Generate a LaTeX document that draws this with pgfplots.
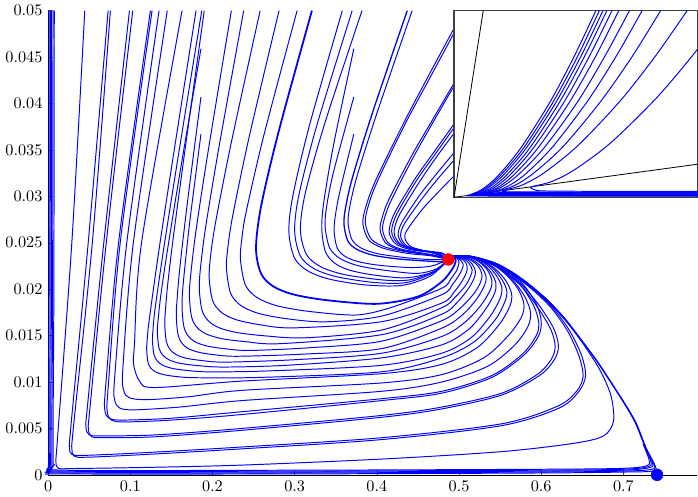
\documentclass[border=0pt]{standalone}
\usepackage{pgfplots}
\pgfplotsset{compat=1.18}
\pgfplotsset{tr/.style={blue, line width=0.6pt, smooth, tension=0.5, mark=none}}
\begin{document}
\begin{tikzpicture}
\begin{axis}[name=main, width=400pt, height=286pt, scale only axis,
  xmin=0, xmax=0.79, ymin=0, ymax=0.05, clip=false,
  axis x line*=bottom, axis y line*=left,
  xtick={0,0.1,0.2,0.3,0.4,0.5,0.6,0.7},
  ytick={0,0.005,0.01,0.015,0.02,0.025,0.03,0.035,0.04,0.045,0.05},
  scaled ticks=false,
  xticklabel style={/pgf/number format/fixed},
  yticklabel style={/pgf/number format/fixed,/pgf/number format/precision=3},
  major tick length=3pt, tick style={black!70}]
% bundle along axes
\addplot[tr] coordinates {(0.0012,0.05)(0.0011,0.02)(0.0009,0.003)(0.0015,0.0003)(0.02,0.0001)(0.3,0.0001)(0.6,0.0002)(0.70,0.0003)(0.736,0.0004)(0.739,0.0009)(0.728,0.0028)(0.716,0.0055)(0.703,0.0075)(0.690,0.0093)(0.670,0.0120)(0.650,0.0144)(0.630,0.0167)(0.609,0.0187)(0.588,0.0203)(0.568,0.0216)(0.548,0.0226)(0.528,0.0232)(0.510,0.0235)(0.492,0.0236)};
\addplot[tr] coordinates {(0.0028,0.05)(0.0025,0.02)(0.002,0.003)(0.003,0.0005)(0.02,0.0002)(0.3,0.0002)(0.6,0.0003)(0.70,0.0004)(0.735,0.0006)(0.737,0.0012)(0.727,0.0030)(0.715,0.0056)(0.702,0.0076)(0.689,0.0094)(0.669,0.0121)(0.649,0.0145)(0.629,0.0168)(0.608,0.0188)(0.587,0.0204)(0.567,0.0217)(0.547,0.0227)(0.527,0.0233)(0.510,0.0236)(0.492,0.0236)};
\addplot[tr] coordinates {(0.0044,0.05)(0.004,0.02)(0.0032,0.003)(0.0045,0.0007)(0.02,0.0003)(0.3,0.0003)(0.6,0.0004)(0.70,0.0005)(0.733,0.0008)(0.735,0.0014)(0.726,0.0031)(0.714,0.0057)(0.701,0.0077)(0.688,0.0095)(0.668,0.0122)(0.648,0.0146)(0.628,0.0168)(0.607,0.0188)(0.587,0.0204)(0.567,0.0217)(0.547,0.0227)(0.527,0.0233)(0.510,0.0236)(0.492,0.0236)};
\addplot[tr] coordinates {(0.006,0.05)(0.0055,0.02)(0.0045,0.003)(0.006,0.0009)(0.02,0.0004)(0.3,0.0004)(0.6,0.0005)(0.70,0.0006)(0.731,0.0009)(0.733,0.0016)(0.725,0.0032)};
\addplot[tr] coordinates {(0.0075,0.05)(0.007,0.02)(0.006,0.003)(0.0075,0.0011)(0.02,0.0005)(0.3,0.0005)(0.6,0.0006)(0.70,0.0007)(0.729,0.0010)(0.731,0.0017)(0.724,0.0033)};
% outer loops
\addplot[tr] coordinates {(0.0446,0.05)(0.029,0.0252)(0.0115,0.004)(0.0095,0.0015)(0.0125,0.0007)(0.03,0.00068)(0.12,0.0008)(0.236,0.00105)(0.406,0.0017)(0.552,0.0025)(0.64,0.0034)(0.676,0.0042)(0.688,0.0058)(0.685,0.0085)(0.672,0.0112)(0.652,0.0140)(0.630,0.0166)(0.609,0.0186)(0.588,0.0202)(0.568,0.0215)(0.548,0.0225)(0.528,0.0232)(0.51,0.0236)(0.492,0.0236)};
\addplot[tr] coordinates {(0.073,0.05)(0.049,0.0252)(0.028,0.0055)(0.026,0.0030)(0.029,0.0022)(0.045,0.0021)(0.12,0.0024)(0.236,0.0030)(0.406,0.0040)(0.552,0.0055)(0.62,0.0074)(0.643,0.0090)(0.651,0.0106)(0.646,0.0128)(0.632,0.0155)(0.612,0.0180)(0.590,0.0199)(0.568,0.0214)(0.548,0.0225)(0.528,0.0232)(0.51,0.0236)(0.492,0.0236)};
\addplot[tr] coordinates {(0.0758,0.05)(0.054,0.0252)(0.031,0.0053)(0.029,0.0028)(0.032,0.0020)(0.048,0.0019)(0.12,0.0022)(0.236,0.0028)(0.406,0.0038)(0.552,0.0053)(0.622,0.0072)(0.646,0.0090)(0.654,0.0107)(0.649,0.0129)(0.634,0.0156)(0.613,0.0181)(0.590,0.0200)(0.568,0.0215)(0.548,0.0225)(0.528,0.0232)(0.51,0.0236)(0.492,0.0236)};
\addplot[tr] coordinates {(0.099,0.05)(0.068,0.0252)(0.048,0.0075)(0.046,0.0052)(0.050,0.0043)(0.065,0.0042)(0.13,0.0043)(0.236,0.0050)(0.406,0.0064)(0.479,0.0073)(0.552,0.0088)(0.595,0.0108)(0.612,0.0124)(0.617,0.0138)(0.612,0.0156)(0.596,0.0180)(0.575,0.0204)(0.55,0.0222)(0.525,0.0232)(0.505,0.0236)(0.492,0.0236)};
\addplot[tr] coordinates {(0.103,0.05)(0.071,0.0252)(0.051,0.0073)(0.049,0.0050)(0.053,0.0041)(0.068,0.0040)(0.13,0.0041)(0.236,0.0048)(0.406,0.0062)(0.479,0.0071)(0.552,0.0086)(0.598,0.0107)(0.616,0.0124)(0.621,0.0139)(0.615,0.0158)(0.598,0.0182)(0.576,0.0205)(0.55,0.0223)(0.525,0.0233)(0.505,0.0236)(0.492,0.0236)};
\addplot[tr] coordinates {(0.1245,0.05)(0.086,0.0252)(0.070,0.0095)(0.069,0.0070)(0.074,0.0061)(0.09,0.0059)(0.15,0.0061)(0.236,0.0068)(0.406,0.0082)(0.479,0.0090)(0.54,0.0107)(0.577,0.0130)(0.594,0.0150)(0.597,0.0164)(0.591,0.0182)(0.575,0.0204)(0.55,0.0222)(0.525,0.0232)(0.505,0.0236)(0.492,0.0236)};
\addplot[tr] coordinates {(0.1265,0.05)(0.088,0.0252)(0.073,0.0093)(0.072,0.0068)(0.077,0.0059)(0.093,0.0057)(0.15,0.0059)(0.236,0.0065)(0.406,0.0080)(0.479,0.0088)(0.54,0.0105)(0.579,0.0129)(0.597,0.0150)(0.600,0.0166)(0.594,0.0184)(0.577,0.0206)(0.551,0.0223)(0.525,0.0233)(0.505,0.0236)(0.492,0.0236)};
\addplot[tr] coordinates {(0.135,0.05)(0.096,0.0252)(0.081,0.0105)(0.081,0.0081)(0.087,0.0072)(0.105,0.0070)(0.16,0.0073)(0.236,0.0080)(0.406,0.0090)(0.479,0.0100)(0.535,0.0117)(0.568,0.0140)(0.584,0.0160)(0.587,0.0175)(0.580,0.0192)(0.565,0.0210)(0.545,0.0225)(0.52,0.0234)(0.492,0.0236)};
\addplot[tr] coordinates {(0.145,0.05)(0.104,0.0252)(0.091,0.0115)(0.092,0.0091)(0.099,0.0083)(0.12,0.0081)(0.17,0.0084)(0.236,0.0091)(0.406,0.0099)(0.479,0.0108)(0.530,0.0126)(0.560,0.0150)(0.576,0.0170)(0.579,0.0184)(0.572,0.0200)(0.558,0.0215)(0.54,0.0227)(0.515,0.0235)(0.492,0.0236)};
\addplot[tr] coordinates {(0.163,0.05)(0.114,0.0252)(0.105,0.0140)(0.104,0.0119)(0.1113,0.0101)(0.129,0.0094)(0.236,0.0101)(0.406,0.0109)(0.479,0.0119)(0.522,0.0137)(0.549,0.0162)(0.562,0.0182)(0.564,0.0195)(0.557,0.0209)(0.544,0.0222)(0.525,0.0232)(0.505,0.0236)(0.492,0.0236)};
% middle loops
\addplot[tr] coordinates {(0.180,0.05)(0.1519,0.0341)(0.1347,0.0241)(0.1229,0.0166)(0.1204,0.01436)(0.120,0.0134)(0.1215,0.01212)(0.1251,0.01148)(0.1313,0.01106)(0.1413,0.01078)(0.1568,0.01058)(0.1804,0.01046)(0.26,0.0105)(0.406,0.0111)(0.479,0.0126)(0.518,0.0143)(0.544,0.0167)(0.556,0.0187)(0.558,0.0199)(0.551,0.0212)(0.538,0.0225)(0.52,0.0233)(0.492,0.0236)};
\addplot[tr] coordinates {(0.187,0.05)(0.1583,0.0343)(0.1409,0.0245)(0.1303,0.0180)(0.1275,0.01548)(0.127,0.0144)(0.1288,0.01296)(0.1330,0.01224)(0.1402,0.01177)(0.1520,0.01145)(0.1701,0.01123)(0.1977,0.01109)(0.27,0.0112)(0.406,0.0118)(0.479,0.0131)(0.515,0.0148)(0.538,0.0171)(0.550,0.0190)(0.552,0.0202)(0.546,0.0214)(0.534,0.0226)(0.517,0.0234)(0.492,0.0236)};
\addplot[tr] coordinates {(0.186,0.0459)(0.1596,0.0321)(0.1438,0.0234)(0.1368,0.0191)(0.1335,0.01637)(0.133,0.0152)(0.1350,0.01364)(0.1398,0.01286)(0.1480,0.01235)(0.1613,0.0120)(0.1820,0.01177)(0.2133,0.01161)(0.29,0.0118)(0.406,0.0126)(0.479,0.0140)(0.512,0.0157)(0.532,0.0178)(0.543,0.0195)(0.545,0.0206)(0.539,0.0218)(0.528,0.0228)(0.512,0.0235)(0.492,0.0236)};
\addplot[tr] coordinates {(0.190,0.05)(0.1661,0.0347)(0.1518,0.0252)(0.1454,0.0204)(0.1425,0.01739)(0.142,0.0161)(0.1438,0.01438)(0.1482,0.01352)(0.1555,0.01296)(0.1676,0.01257)(0.1863,0.01232)(0.2146,0.01214)(0.30,0.0124)(0.406,0.0131)(0.479,0.0149)(0.508,0.0165)(0.527,0.0183)(0.538,0.0199)(0.540,0.0209)(0.535,0.0220)(0.525,0.0229)(0.51,0.0235)(0.492,0.0236)};
\addplot[tr] coordinates {(0.186,0.0407)(0.1696,0.0294)(0.1603,0.0223)(0.1565,0.01838)(0.156,0.0170)(0.1579,0.01516)(0.1623,0.01424)(0.1697,0.01364)(0.1820,0.01323)(0.2009,0.01295)(0.2296,0.01277)(0.31,0.0130)(0.406,0.0136)(0.479,0.0158)(0.505,0.0173)(0.522,0.0190)(0.531,0.0204)(0.533,0.0213)(0.528,0.0223)(0.519,0.0230)(0.506,0.0235)(0.492,0.0236)};
\addplot[tr] coordinates {(0.186,0.0367)(0.1723,0.0272)(0.1643,0.0205)(0.163,0.0180)(0.1651,0.0160)(0.1700,0.0150)(0.1784,0.01435)(0.1921,0.0139)(0.2133,0.0136)(0.2455,0.0134)(0.32,0.0137)(0.406,0.0144)(0.479,0.0166)(0.502,0.0180)(0.518,0.0195)(0.526,0.0207)(0.528,0.0215)(0.524,0.0224)(0.515,0.0231)(0.504,0.0235)(0.492,0.0236)};
\addplot[tr] coordinates {(0.223,0.05)(0.1959,0.0355)(0.1801,0.0264)(0.1732,0.02126)(0.172,0.0191)(0.1748,0.01694)(0.1814,0.01586)(0.1927,0.01516)(0.2111,0.01467)(0.2396,0.01435)(0.2828,0.01413)(0.406,0.0151)(0.479,0.0173)(0.498,0.0186)(0.511,0.0200)(0.518,0.0211)(0.520,0.0219)(0.516,0.0227)(0.508,0.0233)(0.492,0.0236)};
\addplot[tr] coordinates {(0.238,0.05)(0.2087,0.0357)(0.1919,0.0268)(0.1854,0.02228)(0.184,0.0200)(0.1873,0.01772)(0.1950,0.01658)(0.2081,0.01584)(0.2296,0.01533)(0.2628,0.01498)(0.3132,0.01476)(0.406,0.0156)(0.479,0.0180)(0.496,0.0192)(0.508,0.0204)(0.514,0.0214)(0.516,0.0221)(0.512,0.0228)(0.505,0.0233)(0.492,0.0236)};
\addplot[tr] coordinates {(0.258,0.05)(0.2234,0.0360)(0.2040,0.0273)(0.1978,0.02364)(0.196,0.0212)(0.2002,0.01876)(0.2103,0.01754)(0.2274,0.01675)(0.2555,0.0162)(0.2987,0.01583)(0.406,0.0165)(0.479,0.0185)(0.494,0.0197)(0.504,0.0209)(0.509,0.0218)(0.510,0.0224)(0.506,0.0231)(0.492,0.0236)};
\addplot[tr] coordinates {(0.281,0.05)(0.2444,0.0363)(0.2242,0.0277)(0.2183,0.02415)(0.217,0.0222)(0.2219,0.0196)(0.2336,0.0183)(0.2534,0.01746)(0.2860,0.01687)(0.3361,0.01648)(0.406,0.0171)(0.479,0.0194)(0.492,0.0205)(0.500,0.0215)(0.504,0.0222)(0.505,0.0227)(0.501,0.0232)(0.492,0.0236)};
\addplot[tr] coordinates {(0.303,0.05)(0.2626,0.0366)(0.2407,0.0282)(0.2355,0.02524)(0.234,0.0232)(0.2399,0.02048)(0.2538,0.01912)(0.2773,0.01824)(0.3160,0.01762)(0.3756,0.01722)(0.42,0.0181)(0.479,0.0201)(0.490,0.0211)(0.497,0.0220)(0.500,0.0229)(0.497,0.0234)(0.492,0.0236)};
\addplot[tr, line width=1.1pt] coordinates {(0.321,0.05)(0.2806,0.0370)(0.2591,0.0289)(0.253,0.0244)(0.2591,0.02168)(0.2736,0.02032)(0.2981,0.01944)(0.3384,0.01882)(0.4005,0.01842)(0.45,0.0192)(0.479,0.0208)(0.492,0.0222)(0.496,0.0231)(0.492,0.0236)};
% inner curves from the top
\addplot[tr] coordinates {(0.358,0.05)(0.3182,0.0377)(0.2977,0.0300)(0.293,0.0262)(0.2996,0.0234)(0.3153,0.0220)(0.3418,0.02109)(0.3854,0.02046)(0.43,0.0204)(0.465,0.0214)(0.487,0.0232)};
\addplot[tr] coordinates {(0.370,0.05)(0.3275,0.0378)(0.3053,0.0302)(0.300,0.0263)(0.3069,0.02358)(0.3233,0.02222)(0.3510,0.02134)(0.3966,0.02072)(0.435,0.0207)(0.467,0.0217)(0.487,0.0232)};
\addplot[tr] coordinates {(0.382,0.05)(0.3368,0.0379)(0.3131,0.0304)(0.307,0.0264)(0.3142,0.02376)(0.3312,0.02244)(0.3600,0.02158)(0.4073,0.02099)(0.44,0.0210)(0.469,0.0219)(0.487,0.0232)};
\addplot[tr] coordinates {(0.372,0.0459)(0.3477,0.0357)(0.3355,0.0294)(0.333,0.0265)(0.3372,0.0241)(0.3472,0.0229)(0.3642,0.02212)(0.3920,0.02158)(0.4349,0.02122)(0.47,0.0219)(0.487,0.0232)};
\addplot[tr] coordinates {(0.372,0.0407)(0.3478,0.0328)(0.3394,0.02916)(0.337,0.0268)(0.3426,0.02444)(0.3560,0.02326)(0.3788,0.02249)(0.4161,0.02196)(0.45,0.0217)(0.473,0.0222)(0.487,0.0232)};
\addplot[tr] coordinates {(0.372,0.0367)(0.3555,0.0307)(0.3496,0.02796)(0.348,0.0262)(0.3518,0.02444)(0.3608,0.02356)(0.3762,0.02299)(0.4013,0.02259)(0.4401,0.02233)(0.467,0.0225)(0.487,0.0232)};
\addplot[tr, line width=0.8pt] coordinates {(0.437,0.05)(0.3947,0.0390)(0.3706,0.0321)(0.3621,0.02884)(0.360,0.0270)(0.3649,0.02516)(0.3766,0.02424)(0.3965,0.02364)(0.4290,0.02323)(0.4793,0.02295)(0.487,0.0232)};
\addplot[tr] coordinates {(0.443,0.05)(0.4003,0.0390)(0.3760,0.0322)(0.3671,0.0289)(0.365,0.0271)(0.3699,0.0253)(0.3815,0.0244)(0.4012,0.02382)(0.4335,0.02341)(0.462,0.0232)(0.487,0.0232)};
% curves entering from the right
\addplot[tr] coordinates {(0.494,0.0481)(0.463,0.0430)(0.4327,0.0379)(0.3980,0.0316)(0.3861,0.02872)(0.383,0.0270)(0.3903,0.02528)(0.4075,0.02442)(0.4368,0.02386)(0.465,0.0236)(0.487,0.0232)};
\addplot[tr] coordinates {(0.494,0.0476)(0.4636,0.0426)(0.4339,0.0377)(0.4001,0.0315)(0.3891,0.02882)(0.386,0.0271)(0.3933,0.02538)(0.4107,0.02452)(0.4401,0.02396)(0.466,0.0237)(0.487,0.0232)};
\addplot[tr] coordinates {(0.494,0.0422)(0.4682,0.0383)(0.4432,0.0345)(0.4149,0.0297)(0.4068,0.0278)(0.404,0.0264)(0.4105,0.0250)(0.4259,0.0243)(0.4521,0.02385)(0.472,0.0236)(0.487,0.0232)};
\addplot[tr] coordinates {(0.494,0.0419)(0.4692,0.0381)(0.4450,0.0343)(0.4177,0.0296)(0.4097,0.02776)(0.407,0.0264)(0.4132,0.02504)(0.4279,0.02436)(0.4529,0.02392)(0.473,0.0236)(0.487,0.0232)};
\addplot[tr] coordinates {(0.494,0.0378)(0.4698,0.0348)(0.4466,0.0319)(0.4216,0.0282)(0.415,0.0262)(0.4224,0.02492)(0.4400,0.02428)(0.4699,0.02386)(0.487,0.0232)};
\addplot[tr] coordinates {(0.494,0.0374)(0.4707,0.0345)(0.4483,0.0317)(0.4243,0.0281)(0.418,0.0262)(0.4252,0.02496)(0.4422,0.02434)(0.4710,0.02394)(0.487,0.0232)};
\addplot[tr] coordinates {(0.494,0.0368)(0.4715,0.0341)(0.4500,0.0313)(0.4269,0.0279)(0.421,0.0261)(0.4280,0.0249)(0.4446,0.0243)(0.4727,0.02391)(0.487,0.0232)};
\addplot[tr] coordinates {(0.494,0.0347)(0.4725,0.0324)(0.4520,0.0301)(0.4305,0.0272)(0.426,0.0258)(0.4332,0.02472)(0.4502,0.02418)(0.4791,0.02383)(0.487,0.0232)};
\addplot[tr] coordinates {(0.494,0.0339)(0.4734,0.0318)(0.4538,0.0296)(0.4333,0.0270)(0.429,0.0257)(0.4359,0.0247)(0.4523,0.0242)(0.4800,0.02388)(0.487,0.0232)};
\addplot[tr] coordinates {(0.494,0.0322)(0.4741,0.0304)(0.4554,0.0286)(0.4372,0.02642)(0.434,0.0255)(0.4414,0.02458)(0.4589,0.02412)(0.475,0.0237)(0.487,0.0232)};
% equilibria
\addplot[only marks, mark=*, mark size=3.6pt, red] coordinates {(0.487,0.0232)};
\addplot[only marks, mark=*, mark size=3.6pt, blue] coordinates {(0.741,0)};
\end{axis}
% inset
\begin{axis}[at={(250.1pt,171pt)}, anchor=south west, width=149.9pt, height=115pt, scale only axis,
  xmin=0, xmax=1, ymin=0, ymax=1, xtick=\empty, ytick=\empty,
  axis background/.style={fill=white}, axis line style={black!75, line width=0.8pt}]
\addplot[black, line width=0.5pt] coordinates {(0,0)(0.12,1)};
\addplot[black, line width=0.5pt] coordinates {(0,0)(1,0.177)};
\addplot[tr] coordinates {(1,0.006)(0.5,0.006)(0.09,0.007)(0.062,0.008)(0.058,0.010)(0.112,0.040)(0.176,0.109)(0.271,0.258)(0.392,0.505)(0.493,0.753)(0.583,1)};
\addplot[tr] coordinates {(1,0.008)(0.5,0.008)(0.10,0.009)(0.072,0.010)(0.068,0.012)(0.122,0.042)(0.186,0.111)(0.283,0.259)(0.405,0.506)(0.507,0.753)(0.597,1)};
\addplot[tr] coordinates {(1,0.010)(0.5,0.010)(0.11,0.011)(0.082,0.012)(0.078,0.014)(0.132,0.044)(0.198,0.113)(0.295,0.261)(0.418,0.507)(0.521,0.754)(0.612,1)};
\addplot[tr] coordinates {(1,0.012)(0.5,0.012)(0.125,0.013)(0.096,0.014)(0.092,0.016)(0.147,0.046)(0.212,0.114)(0.310,0.262)(0.433,0.508)(0.536,0.754)(0.628,1)};
\addplot[tr] coordinates {(1,0.014)(0.5,0.014)(0.14,0.015)(0.110,0.016)(0.106,0.019)(0.161,0.048)(0.228,0.117)(0.326,0.264)(0.452,0.510)(0.556,0.755)(0.649,1)};
\addplot[tr] coordinates {(1,0.016)(0.5,0.016)(0.155,0.017)(0.124,0.018)(0.120,0.021)(0.177,0.050)(0.245,0.119)(0.346,0.266)(0.475,0.511)(0.582,0.755)(0.677,1)};
\addplot[tr] coordinates {(1,0.019)(0.5,0.019)(0.17,0.020)(0.138,0.021)(0.133,0.024)(0.193,0.053)(0.265,0.122)(0.372,0.268)(0.508,0.512)(0.620,0.756)(0.721,1)};
\addplot[tr] coordinates {(1,0.022)(0.5,0.022)(0.19,0.023)(0.159,0.024)(0.154,0.027)(0.217,0.056)(0.293,0.124)(0.405,0.270)(0.548,0.514)(0.667,0.757)(0.773,1)};
\addplot[tr] coordinates {(1,0.025)(0.5,0.025)(0.215,0.026)(0.181,0.027)(0.175,0.031)(0.244,0.060)(0.326,0.128)(0.449,0.273)(0.604,0.516)(0.734,0.758)(0.849,1)};
\addplot[tr] coordinates {(1,0.028)(0.5,0.028)(0.245,0.029)(0.209,0.031)(0.202,0.036)(0.279,0.065)(0.371,0.132)(0.509,0.277)(0.684,0.518)(0.829,0.759)(0.958,1)};
\addplot[tr] coordinates {(1,0.032)(0.6,0.032)(0.37,0.034)(0.328,0.042)(0.319,0.056)(0.401,0.084)(0.498,0.150)(0.644,0.292)(0.829,0.528)(0.983,0.764)(1.12,1)};
\end{axis}
\end{tikzpicture}
\end{document}
